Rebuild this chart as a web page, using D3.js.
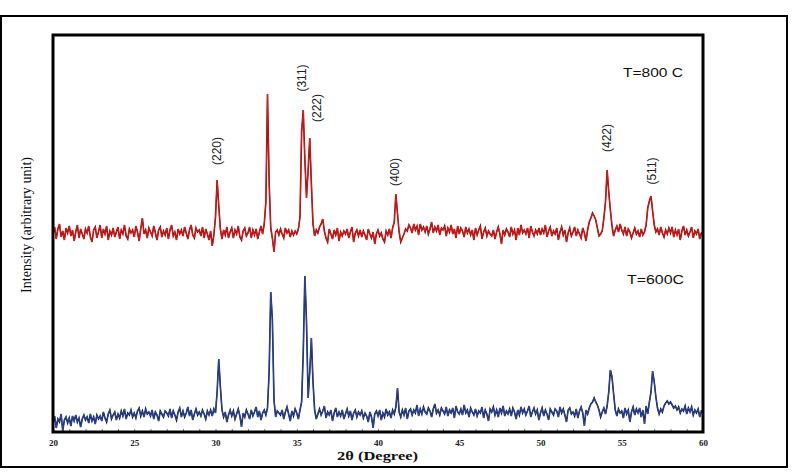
<!DOCTYPE html>
<html>
<head>
<meta charset="utf-8">
<script src="https://cdn.jsdelivr.net/npm/d3@7/dist/d3.min.js"></script>
<style>
  body { margin: 0; background: #fff; }
  svg { display: block; }
</style>
</head>
<body>
<div id="chart"></div>
<script>
// 2theta grid: 20.0 .. 60.0 step 0.1
var thetaStart = 20, thetaStep = 0.1;

// T=800 C pattern (arbitrary units), one row per degree
var red800 = [
  198,205,193,203,208,195,201,192,204,199,
  206,196,202,191,200,207,194,203,198,193,
  203,199,206,195,190,202,205,194,200,207,
  194,203,198,206,192,201,197,204,195,200,
  205,193,202,198,207,196,193,203,199,202,
  195,206,200,191,203,214,198,202,194,204,
  200,196,206,199,192,202,205,195,201,197,
  204,193,202,207,196,200,192,203,198,202,
  196,205,199,193,202,207,197,194,204,200,
  202,196,205,194,203,198,192,201,186,197,
  215,252,226,203,193,202,197,205,194,200,
  204,194,202,198,206,195,192,201,204,196,
  199,205,194,202,197,203,193,200,206,198,
  208,230,338,250,204,194,180,200,202,197,
  203,198,194,204,199,202,195,201,197,201,
  198,203,215,300,322,272,234,262,294,248,
  208,196,202,199,205,208,213,201,194,190,
  203,198,193,202,197,204,191,200,196,201,
  198,203,194,200,205,190,199,202,196,202,
  195,201,197,192,203,198,194,200,188,198,
  202,196,199,193,190,201,197,203,194,204,
  210,238,218,200,190,194,198,203,201,207,
  204,199,208,202,206,197,208,202,205,200,
  206,198,203,210,199,205,201,207,197,204,
  202,206,196,204,200,207,198,203,194,206,
  198,204,201,195,205,199,203,197,202,192,
  204,197,202,206,193,200,204,196,201,198,
  196,202,193,200,205,198,188,202,197,203,
  200,195,205,198,202,192,204,197,207,199,
  202,198,204,194,206,200,196,202,198,204,
  197,203,199,207,195,201,205,196,201,198,
  204,192,200,205,197,202,190,199,204,196,
  200,205,196,202,198,194,204,199,191,202,
  210,214,219,216,212,204,196,198,201,214,
  230,262,240,222,206,196,202,206,200,208,
  202,198,205,196,203,200,194,199,204,198,
  201,195,203,197,200,207,224,231,236,221,
  207,200,203,197,205,199,195,202,198,204,
  199,205,195,202,197,203,192,201,206,197,
  202,196,200,205,194,201,198,203,193,199,
  200
];

// T=600C pattern (arbitrary units)
var blue600 = [
  8,16,4,13,10,18,1,12,15,9,
  14,6,16,11,17,10,14,5,13,17,
  12,15,9,18,11,15,8,17,13,16,
  11,20,14,10,18,22,13,17,20,12,
  18,14,21,16,23,13,19,17,22,15,
  19,14,21,24,16,21,15,23,18,20,
  16,22,13,20,17,11,21,18,15,21,
  19,16,23,14,21,17,12,20,24,15,
  21,15,19,25,16,22,12,18,23,17,
  20,16,22,18,13,21,17,22,16,23,
  19,40,73,45,22,15,20,10,17,22,
  16,21,13,18,23,16,5,19,15,22,
  18,13,22,16,20,25,15,21,12,19,
  22,17,24,60,140,112,32,15,21,19,
  17,22,13,20,25,18,11,21,16,23,
  19,13,22,30,80,156,110,34,60,94,
  50,22,13,18,23,17,21,26,14,20,
  17,22,11,19,24,15,20,16,22,13,
  18,23,16,21,12,19,22,15,20,17,
  21,14,19,16,10,20,15,4,18,21,
  16,22,12,19,15,23,17,20,14,22,
  18,25,44,20,15,22,17,24,13,21,
  23,17,22,19,27,16,23,18,25,20,
  18,24,21,15,23,28,19,22,17,24,
  21,18,25,16,22,19,24,14,26,20,
  18,23,17,27,19,22,15,24,20,17,
  23,16,21,19,25,14,22,18,11,23,
  20,25,17,22,15,24,19,26,16,21,
  18,23,16,24,20,13,22,17,25,19,
  23,17,21,26,15,20,24,18,22,12,
  19,24,16,22,18,12,23,20,17,23,
  21,15,25,19,23,17,10,22,24,18,
  20,16,23,14,21,25,19,6,22,18,
  24,28,30,34,30,27,22,15,20,24,
  18,26,40,62,55,38,22,16,23,19,
  21,14,24,18,22,10,20,25,17,23,
  19,24,15,22,8,26,18,30,40,61,
  50,35,24,18,23,20,26,29,31,28,
  30,27,24,26,22,25,19,23,21,26,
  18,24,20,25,17,22,19,23,15,21,
  20
];

// Miller index labels: name, 2theta position, label height
var hklNames = ["(220)", "(311)", "(222)", "(400)", "(422)", "(511)"];
var hklTheta = [30.1, 35.3, 36.25, 41.05, 54.1, 56.85];
var hklLevel = [281, 354, 324, 260, 294, 261];

var xTicks = [20, 25, 30, 35, 40, 45, 50, 55, 60];

var width = 809, height = 476;
var plotLeft = 53, plotRight = 703, plotTop = 35, plotBottom = 432;

var svg = d3.select("#chart").append("svg")
    .attr("width", width)
    .attr("height", height);

// outer frame
svg.append("rect")
    .attr("x", 1).attr("y", 16)
    .attr("width", 786).attr("height", 451)
    .attr("fill", "none")
    .attr("stroke", "#000")
    .attr("stroke-width", 2);

var x = d3.scaleLinear().domain([20, 60]).range([plotLeft, plotRight]);
var y = d3.scaleLinear().domain([0, 397]).range([plotBottom, plotTop]);

svg.append("clipPath").attr("id", "clip")
  .append("rect")
    .attr("x", plotLeft).attr("y", plotTop)
    .attr("width", plotRight - plotLeft).attr("height", plotBottom - plotTop);

var line = d3.line()
    .x(function(d, i) { return x(thetaStart + i * thetaStep); })
    .y(function(d) { return y(d); });

// each trace: dark under-stroke + lighter stroke on top
function drawTrace(data, dark, light) {
    svg.append("path")
        .datum(data)
        .attr("clip-path", "url(#clip)")
        .attr("fill", "none")
        .attr("stroke", dark)
        .attr("stroke-width", 1.6)
        .attr("d", line);
    svg.append("path")
        .datum(data)
        .attr("clip-path", "url(#clip)")
        .attr("fill", "none")
        .attr("stroke", light)
        .attr("stroke-width", 0.8)
        .attr("d", line);
}

drawTrace(blue600, "#0c1650", "#3553a3");
drawTrace(red800, "#8a0505", "#ee1c1c");

// x axis, small ticks pointing inside
var xAxis = d3.axisBottom(x)
    .tickValues(d3.range(20, 61, 1))
    .tickSizeInner(-3)
    .tickSizeOuter(0)
    .tickPadding(8)
    .tickFormat(function(d) { return xTicks.indexOf(d) >= 0 ? d : ""; });

var gx = svg.append("g")
    .attr("transform", "translate(0," + plotBottom + ")")
    .call(xAxis);
gx.select(".domain").remove();
gx.selectAll("line").attr("stroke", "#777");
gx.selectAll("text")
    .attr("font-family", "Liberation Serif, serif")
    .attr("font-weight", "bold")
    .attr("font-size", "9px")
    .attr("fill", "#222");

// plot frame
svg.append("rect")
    .attr("x", plotLeft).attr("y", plotTop)
    .attr("width", plotRight - plotLeft).attr("height", plotBottom - plotTop)
    .attr("fill", "none")
    .attr("stroke", "#000")
    .attr("stroke-width", 3);

// peak labels
svg.selectAll("text.hkl")
    .data(hklNames)
    .enter()
    .append("text")
    .attr("class", "hkl")
    .attr("transform", function(d, i) {
        return "translate(" + x(hklTheta[i]) + "," + y(hklLevel[i]) + ") rotate(-90)";
    })
    .attr("text-anchor", "middle")
    .attr("dy", "0.35em")
    .attr("font-family", "Liberation Sans, Arial, sans-serif")
    .attr("font-size", "12px")
    .attr("fill", "#222")
    .text(function(d) { return d; });

svg.append("text")
    .attr("x", 623).attr("y", 77)
    .attr("font-family", "Liberation Sans, Arial, sans-serif")
    .attr("font-size", "13px")
    .attr("textLength", 60)
    .attr("lengthAdjust", "spacingAndGlyphs")
    .attr("fill", "#111")
    .text("T=800 C");

svg.append("text")
    .attr("x", 627).attr("y", 284)
    .attr("font-family", "Liberation Sans, Arial, sans-serif")
    .attr("font-size", "13px")
    .attr("textLength", 57)
    .attr("lengthAdjust", "spacingAndGlyphs")
    .attr("fill", "#111")
    .text("T=600C");

// axis titles
svg.append("text")
    .attr("x", 337).attr("y", 460)
    .attr("font-family", "Liberation Serif, serif")
    .attr("font-weight", "bold")
    .attr("font-size", "13px")
    .attr("textLength", 81)
    .attr("lengthAdjust", "spacingAndGlyphs")
    .attr("fill", "#111")
    .text("2θ (Degree)");

svg.append("text")
    .attr("transform", "translate(31,225) rotate(-90)")
    .attr("text-anchor", "middle")
    .attr("font-family", "Liberation Serif, serif")
    .attr("font-size", "15px")
    .attr("textLength", 136)
    .attr("lengthAdjust", "spacingAndGlyphs")
    .attr("fill", "#111")
    .text("Intensity (arbitrary unit)");
</script>
</body>
</html>
